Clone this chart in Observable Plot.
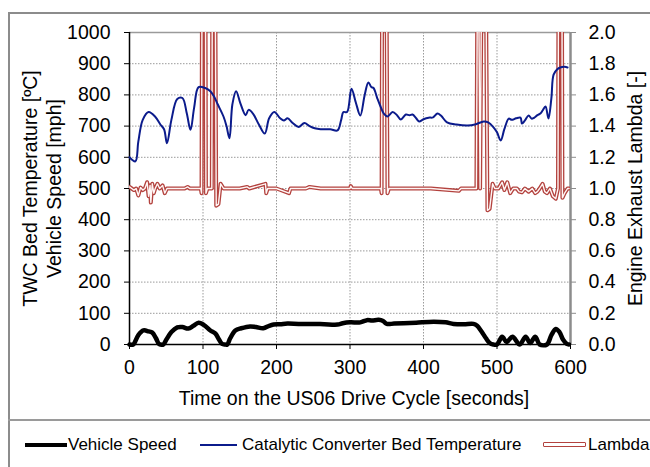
<!DOCTYPE html>
<html>
<head>
<meta charset="utf-8">
<script src="https://cdn.jsdelivr.net/npm/d3@7"></script>
<script src="https://cdn.jsdelivr.net/npm/@observablehq/plot@0.6"></script>
<style>
  html, body { margin: 0; padding: 0; background: #fff; }
  body { position: relative; width: 650px; height: 467px; overflow: hidden; font-family: "Liberation Sans", Arial, sans-serif; }
  #chart { position: absolute; left: 0; top: 0; }
  .frame { position: absolute; left: 8px; top: 12px; width: 700px; height: 500px; border-left: 2px solid #8c8c8c; border-top: 2px solid #8c8c8c; box-sizing: border-box; pointer-events: none; }
  .sep { position: absolute; left: 8px; top: 419px; width: 700px; height: 0; border-top: 2px solid #9a9a9a; }
  .leg { position: absolute; top: 435px; font-size: 17px; line-height: 20px; color: #000; white-space: nowrap; }
  .sw { position: absolute; box-sizing: border-box; }
</style>
</head>
<body>
<div id="chart"></div>
<div class="frame"></div>
<div class="sep"></div>
<div id="legend"></div>
<script>
// ---- data ----
const tempTime = [0,8,12,18,26,35,42,47,51,57,65,72,78,83,88,94,103,110,115,120,128,132,136,140,145,151,158,162,168,176,184,190,197,205,210,215,222,230,238,245,252,260,273,283,288,291,296,302,308,314,320,325,329,332,337,341,346,351,358,364,369,376,381,385,390,394,400,407,413,419,424,432,445,460,470,482,488,495,500,505,510,516,520,526,532,534,538,543,547,550,555,559,562,566,570,574,577,582,586,592,596];
const tempValue = [600,587,650,720,745,730,705,690,645,720,787,790,740,688,760,825,822,812,795,770,730,700,661,770,812,772,735,752,740,705,676,725,745,725,718,725,710,697,710,700,693,690,690,686,720,745,745,820,775,734,800,840,825,822,790,766,740,731,745,735,721,737,735,737,725,715,722,727,728,740,733,712,705,702,705,715,712,697,680,654,690,724,720,725,727,708,718,734,724,726,735,740,750,763,724,790,865,882,888,890,888];

const speedTime = [0,5,12,19,26,31,36,40,42,46,50,57,65,72,80,87,94,101,110,117,122,126,130,133,137,144,152,164,172,182,190,196,205,215,230,250,265,283,290,300,314,323,330,339,345,350,360,373,390,414,430,441,455,468,473,478,485,490,495,500,507,513,521,531,539,545,552,558,568,574,580,585,590,595,598];
const speedValue = [0,0,30,45,42,38,20,2,0,0,15,40,55,56,51,60,70,63,45,35,15,2,0,0,20,45,52,58,56,52,60,64,65,67,66,66,65,64,68,71,71,78,77,79,75,66,67,68,70,73,71,66,65,66,60,45,20,5,0,0,25,8,25,0,25,5,25,0,0,30,50,40,15,2,0];

const lambdaTime = [0,3,6,9,12,15,18,21,24,26,28,29,31,33,35,38,41,45,48,51,60,75,79,82,97,98,99,103,104,106,112,113,116,118,121,124,128,150,160,163,185,186,188,200,217,219,240,245,260,300,301,303,342,343,344,349,351,353,380,410,448,451,470,472,474,477,480,484,487,490,494,497,502,507,510,514,518,522,527,530,534,538,543,548,552,555,558,562,565,568,572,576,580,583,584,588,589,592,596,598];
const lambdaValue = [1.01,1.0,0.99,1.0,0.955,1.006,0.99,1.0,1.04,0.95,1.02,0.91,1.03,0.97,1.0,1.03,1.0,1.02,0.97,1.0,1.0,1.0,1.01,1.0,1.0,0.97,3,3,0.97,1.0,1.0,3,3,0.89,0.9,1.03,1.0,1.0,1.01,1.0,1.03,0.97,1.0,1.0,0.97,1.0,1.0,1.01,1.0,1.0,1.015,1.0,1.0,0.97,3,3,0.97,1.0,1.0,1.0,0.985,1.0,1.0,1.0,3,1.0,3,3,0.86,0.87,1.03,1.0,1.0,1.04,0.99,1.04,0.97,1.0,1.0,0.98,0.975,1.0,0.98,1.0,0.97,0.98,1.0,1.03,0.98,0.97,1.0,0.95,0.935,1.0,3,3,0.94,0.97,1.0,1.0];

const xTicks = [0,100,200,300,400,500,600];
const leftTicks = [0,100,200,300,400,500,600,700,800,900,1000];
const rightTickLabels = ["0.0","0.2","0.4","0.6","0.8","1.0","1.2","1.4","1.6","1.8","2.0"];
const gridX = [100,200,300,400,500];
const gridY = [100,200,300,400,500,600,700,800,900];

const xTitle = "Time on the US06 Drive Cycle [seconds]";
const yLeftTitle = "TWC Bed Temperature [ºC]\nVehicle Speed [mph]";
const yRightTitle = "Engine Exhaust Lambda [-]";

const legendItems = ["Vehicle Speed", "Catalytic Converter Bed Temperature", "Lambda"];
const colors = {speed: "#000000", temp: "#0b1b8c", lambda: "#b3423e"};

// tables built from the arrays
const temp = tempTime.map((t, i) => ({t, v: tempValue[i]}));
const speed = speedTime.map((t, i) => ({t, v: speedValue[i]}));
const lambda = lambdaTime.map((t, i) => ({t, v: lambdaValue[i]}));
const lambdaToLeft = 500; // lambda 2.0 <-> 1000 on left scale

const font = "'Liberation Sans', Arial, sans-serif";

const chart = Plot.plot({
  width: 650,
  height: 420,
  marginLeft: 129,
  marginRight: 80,
  marginTop: 32,
  marginBottom: 76,
  x: {domain: [0, 600]},
  y: {domain: [0, 1000]},
  style: {fontFamily: font, fontSize: "19.5px", background: "transparent", color: "#000", overflow: "visible"},
  marks: [
    Plot.gridX(gridX, {stroke: "#9a9a9a", strokeOpacity: 1, strokeDasharray: "1.5,1.5"}),
    Plot.gridY(gridY, {stroke: "#9a9a9a", strokeOpacity: 1, strokeDasharray: "1.5,1.5"}),
    Plot.ruleY([1000], {stroke: "#9a9a9a", strokeWidth: 1.5}),
    Plot.ruleX([600], {stroke: "#8c8c8c", strokeWidth: 2.5}),
    Plot.ruleX([0], {stroke: "#000", strokeWidth: 1.5}),
    Plot.axisX({ticks: xTicks, tickSize: 5, tickPadding: 11, label: null, tickFormat: d => String(d)}),
    Plot.axisY({anchor: "left", ticks: leftTicks, tickSize: 5, tickPadding: 14, label: null, tickFormat: d => String(d)}),
    Plot.axisY({anchor: "right", ticks: leftTicks, tickSize: 5, tickPadding: 13, label: null, stroke: "#8c8c8c",
      tickFormat: d => rightTickLabels[leftTicks.indexOf(d)]}),
    Plot.line(lambda, {x: "t", y: d => d.v * lambdaToLeft, stroke: colors.lambda, strokeWidth: 4, clip: true}),
    Plot.line(lambda, {x: "t", y: d => d.v * lambdaToLeft, stroke: "#fff6f5", strokeWidth: 1.4, clip: true}),
    Plot.line(temp, {x: "t", y: "v", stroke: colors.temp, strokeWidth: 2, curve: "catmull-rom"}),
    Plot.ruleY([0], {stroke: "#000", strokeWidth: 1.5}),
    Plot.line(speed, {x: "t", y: "v", stroke: colors.speed, strokeWidth: 4.5, curve: "catmull-rom"}),
    Plot.text([yLeftTitle], {frameAnchor: "left", rotate: -90, dx: -88, textAnchor: "middle", lineAnchor: "middle", lineHeight: 1.2, fontSize: 19.5, fill: "#000"}),
    Plot.text([yRightTitle], {frameAnchor: "right", rotate: -90, dx: 65, textAnchor: "middle", lineAnchor: "middle", fontSize: 19.5, fill: "#000"}),
    Plot.text([xTitle], {frameAnchor: "bottom", dy: 54, dx: 4, textAnchor: "middle", lineAnchor: "middle", fontSize: 19.5, fill: "#000"})
  ]
});
document.getElementById("chart").appendChild(chart);

// legend (HTML, below the svg)
const legend = document.getElementById("legend");
const swatches = [
  {x: 25, w: 42, style: `top:443px;height:4px;background:${colors.speed};`},
  {x: 200, w: 37, style: `top:444px;height:2px;background:${colors.temp};`},
  {x: 543, w: 43, style: `top:442px;height:5px;background:#fff;border:1.5px solid ${colors.lambda};border-radius:1px;`}
];
const textX = [68, 242, 588];
legendItems.forEach((name, i) => {
  const s = document.createElement("div");
  s.className = "sw";
  s.setAttribute("style", `left:${swatches[i].x}px;width:${swatches[i].w}px;` + swatches[i].style);
  legend.appendChild(s);
  const t = document.createElement("div");
  t.className = "leg";
  t.style.left = textX[i] + "px";
  t.textContent = name;
  legend.appendChild(t);
});
</script>
</body>
</html>
